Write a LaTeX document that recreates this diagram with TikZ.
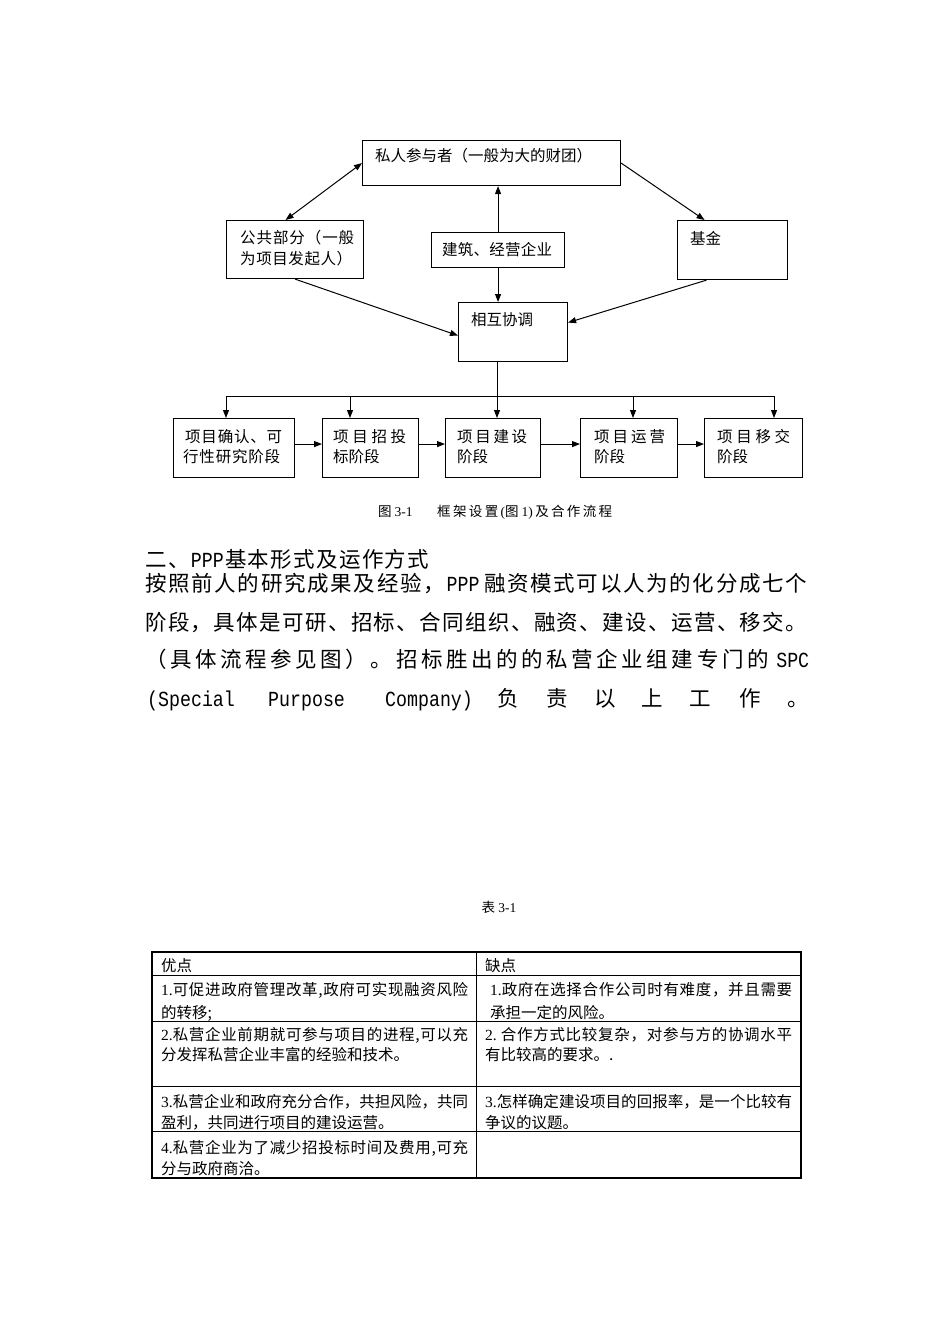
\documentclass[tikz,border=0pt]{standalone}
\usepackage{fontspec}
\setmainfont{Noto Sans CJK SC}
\newfontfamily\latm[FakeStretch=0.85]{Liberation Mono}
\newfontfamily\lser{Liberation Serif}
\usetikzlibrary{arrows.meta}
\newcount\cjkcc
\cjkcc="3000 \loop\ifnum\cjkcc<"3040 \XeTeXcharclass\cjkcc=1 \advance\cjkcc by 1 \repeat
\cjkcc="4E00 \loop\ifnum\cjkcc<"A000 \XeTeXcharclass\cjkcc=1 \advance\cjkcc by 1 \repeat
\cjkcc="FF00 \loop\ifnum\cjkcc<"FFF0 \XeTeXcharclass\cjkcc=1 \advance\cjkcc by 1 \repeat
\XeTeXinterchartoks 1 1 = {\hskip 0pt plus 1fil\relax}
\XeTeXinterchartokenstate=1
\newcommand\jl[2]{\hbox to #1pt{#2}}
\newcommand\fg{\hskip 0pt plus 1fil\relax}
\tikzset{
  box/.style={draw, line width=1.1pt, inner sep=0pt, anchor=north west},
  lbl/.style={font=\fontsize{15.5}{18}\selectfont, inner sep=0pt, anchor=base west},
  arr/.style={line width=1pt, -{Triangle[length=8pt,width=6pt]}},
  darr/.style={line width=1pt, {Triangle[length=8pt,width=6pt]}-{Triangle[length=8pt,width=6pt]}},
  ln/.style={line width=1pt},
  body/.style={font=\fontsize{21.5}{26}\selectfont, inner sep=0pt, anchor=base west},
  bodyc/.style={font=\fontsize{21.5}{26}\selectfont, inner sep=0pt, anchor=base},
  captxt/.style={font=\fontsize{13.5}{16}\selectfont, inner sep=0pt, anchor=base west},
  tbl/.style={font=\fontsize{15.5}{18}\selectfont, inner sep=0pt, anchor=base west},
}
\begin{document}
\begin{tikzpicture}[x=1pt,y=-1pt]
\fill[white] (0,0) rectangle (950,1344);
\useasboundingbox (0,0) rectangle (950,1344);

% ---------- diagram boxes ----------
\node[box, minimum width=258, minimum height=45] (priv) at (362,140) {};
\node[lbl] (privt) at (375,161) {私人参与者（一般为大的财团）};

\node[box, minimum width=137, minimum height=58] (pub) at (226,220) {};
\node[lbl] (pubt1) at (240,243) {\jl{114}{公共部分（一般}};
\node[lbl] (pubt2) at (240,264) {\jl{112}{为项目发起人）}};

\node[box, minimum width=133, minimum height=35] (con) at (431,232) {};
\node[lbl] (cont) at (442,255) {\jl{110}{建筑、经营企业}};

\node[box, minimum width=110, minimum height=59] (fund) at (677,220) {};
\node[lbl] (fundt) at (690,244) {基金};

\node[box, minimum width=109, minimum height=59] (coord) at (458,302) {};
\node[lbl] (coordt) at (471,325) {相互协调};

\node[box, minimum width=121, minimum height=59] (b1) at (173,418) {};
\node[lbl] (b1a) at (185,442) {\jl{97}{项目确认、可}};
\node[lbl] (b1b) at (183,462) {\jl{97}{行性研究阶段}};

\node[box, minimum width=96, minimum height=59] (b2) at (322,418) {};
\node[lbl] (b2a) at (333,442) {\jl{73}{项目招投}};
\node[lbl] (b2b) at (333,462) {标阶段};

\node[box, minimum width=95, minimum height=59] (b3) at (445,418) {};
\node[lbl] (b3a) at (457,442) {\jl{70}{项目建设}};
\node[lbl] (b3b) at (457,462) {阶段};

\node[box, minimum width=97, minimum height=59] (b4) at (580,418) {};
\node[lbl] (b4a) at (594,442) {\jl{71}{项目运营}};
\node[lbl] (b4b) at (594,462) {阶段};

\node[box, minimum width=98, minimum height=59] (b5) at (704,418) {};
\node[lbl] (b5a) at (717,442) {\jl{73}{项目移交}};
\node[lbl] (b5b) at (717,462) {阶段};

% ---------- connectors ----------
\draw[darr] ([xshift=-9.5pt]pub.north) -- (priv.west);
\draw[arr] (priv.east) -- ([xshift=-28pt]fund.north);
\draw[arr] (con.north) -- (con.north |- priv.south);
\draw[arr] (con.south) -- (con.south |- coord.north);
\draw[arr] (pub.south) -- ([yshift=-3.5pt]coord.west);
\draw[arr] ([xshift=-26pt]fund.south) -- ([yshift=9.5pt]coord.east);

\coordinate (bus) at (497,396);
\coordinate (t1) at (226,396);
\coordinate (t2) at (350,396);
\coordinate (t4) at (633,396);
\coordinate (t5) at (774,396);
\draw[ln] (t1) -- (t5);
\draw[arr] (coord.south -| bus) -- (b3.north -| bus);
\draw[arr] (t1) -- (t1 |- b1.north);
\draw[arr] (t2) -- (t2 |- b2.north);
\draw[arr] (t4) -- (t4 |- b4.north);
\draw[arr] (t5) -- (t5 |- b5.north);

\draw[arr] ([yshift=4pt]b1.east) -- ([yshift=4pt]b2.west);
\draw[arr] ([yshift=4pt]b2.east) -- ([yshift=4pt]b3.west);
\draw[arr] ([yshift=4pt]b3.east) -- ([yshift=4pt]b4.west);
\draw[arr] ([yshift=4pt]b4.east) -- ([yshift=4pt]b5.west);

% caption
\node[captxt] (cap1) at (378,516) {图 {\lser 3-1}};
\node[captxt] (cap2) at (437,516) {\jl{175}{框架设置\fg{\lser (}图 {\lser 1)}\fg 及合作流程}};

% ---------- body text ----------
\node[body] (h1) at (145,567) {\jl{284}{二、\fg{\latm PPP}\fg 基本形式及运作方式}};
\node[body] (p1) at (145,591) {\jl{662}{按照前人的研究成果及经验，\fg{\latm PPP}\hskip 3pt plus 1fil\relax 融资模式可以人为的化分成七个}};
\node[body] (p2) at (145,630) {\jl{662}{阶段，具体是可研、招标、合同组织、融资、建设、运营、移交。}};
\node[body] (p3) at (145,667) {\jl{664}{（具体流程参见图）。招标胜出的的私营企业组建专门的\hskip 4pt plus 1fil\relax{\latm SPC}}};
\node[body] (w1) at (147,706) {\latm (Special};
\node[body] (w2) at (268,706) {\latm Purpose};
\node[body] (w3) at (385,706) {\latm Company)};
\node[bodyc] (c1) at (508,706) {负};
\node[bodyc] (c2) at (557,706) {责};
\node[bodyc] (c3) at (605,706) {以};
\node[bodyc] (c4) at (652,706) {上};
\node[bodyc] (c5) at (700,706) {工};
\node[bodyc] (c6) at (750,706) {作};
\node[body] (c7) at (787,706) {。};

% ---------- table ----------
\node[font=\fontsize{13.5}{16}\selectfont, inner sep=0pt, anchor=base] (tcap) at (499,912) {表 {\lser 3-1}};

\draw[line width=1.4pt] (152,952) rectangle (801,1178);
\draw[line width=1pt] (152,975) -- (801,975);
\draw[line width=1pt] (152,1021) -- (801,1021);
\draw[line width=1pt] (152,1086) -- (801,1086);
\draw[line width=1pt] (152,1131) -- (801,1131);
\draw[line width=1pt] (476,952) -- (476,1178);

\node[tbl] (th1) at (161,971) {优点};
\node[tbl] (th2) at (485,971) {缺点};

\node[tbl] (l1a) at (161,995) {\jl{307}{{\lser 1.}可促进政府管理改革\fg,\fg 政府可实现融资风险}};
\node[tbl] (l1b) at (161,1018) {的转移;};
\node[tbl] (r1a) at (490,995) {\jl{302}{{\lser 1.}政府在选择合作公司时有难度，并且需要}};
\node[tbl] (r1b) at (490,1018) {承担一定的风险。};

\node[tbl] (l2a) at (161,1040) {\jl{307}{{\lser 2.}私营企业前期就可参与项目的进程\fg,\fg 可以充}};
\node[tbl] (l2b) at (161,1060) {分发挥私营企业丰富的经验和技术。};
\node[tbl] (r2a) at (485,1040) {\jl{307}{{\lser 2.}\hspace{4pt}合作方式比较复杂，对参与方的协调水平}};
\node[tbl] (r2b) at (485,1060) {有比较高的要求。.};

\node[tbl] (l3a) at (161,1107) {\jl{307}{{\lser 3.}私营企业和政府充分合作，共担风险，共同}};
\node[tbl] (l3b) at (161,1128) {盈利，共同进行项目的建设运营。};
\node[tbl] (r3a) at (485,1107) {\jl{307}{{\lser 3.}怎样确定建设项目的回报率，是一个比较有}};
\node[tbl] (r3b) at (485,1128) {争议的议题。};

\node[tbl] (l4a) at (161,1153) {\jl{307}{{\lser 4.}私营企业为了减少招投标时间及费用\fg,\fg 可充}};
\node[tbl] (l4b) at (161,1174) {分与政府商洽。};
\end{tikzpicture}
\end{document}
